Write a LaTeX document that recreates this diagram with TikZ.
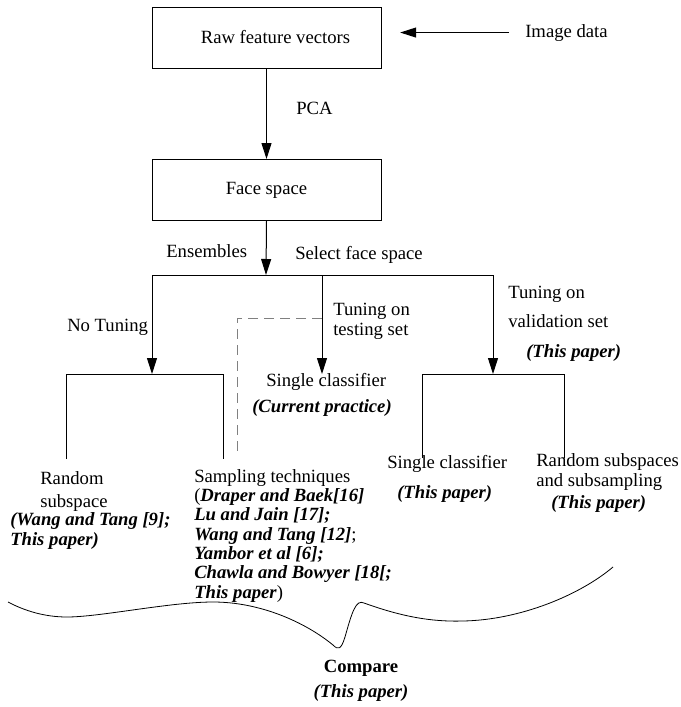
\documentclass[tikz,border=0pt]{standalone}
\usepackage{fontspec}
\setmainfont{Liberation Serif}
\usetikzlibrary{arrows.meta}
\newcommand{\bi}[1]{\textbf{\textit{#1}}}
\begin{document}
\begin{tikzpicture}[x=0.75pt,y=-0.75pt,
  every node/.style={font=\fontsize{14pt}{14.5pt}\selectfont, inner sep=0pt},
  box/.style={draw, line width=0.75pt, minimum width=171.75pt, minimum height=45.75pt},
  txt/.style={anchor=base west, align=left},
  ln/.style={line width=0.75pt},
  arr/.style={line width=0.75pt, -{Triangle[length=12pt,width=7.5pt]}},
  dashline/.style={line width=0.75pt, gray, dash pattern=on 7.5pt off 4.5pt}
]
\useasboundingbox (0,0) rectangle (681,707);

% boxes
\node[box] (raw) at (266.5,37.5) {\hspace*{13.5pt}Raw feature vectors};
\node[box] (face) at (266.5,190) {Face space};
\node[txt] (img) at (525,37) {Image data};
\draw[arr] (img.west) ++(-16,0) coordinate (imgs) -- ([xshift=14]raw.east |- imgs);
\draw[arr] (raw.south) -- (face.north);
\node[txt] (pca) at (296,114) {PCA};

% split
\coordinate (j) at (266,275);
\coordinate (jl) at (152,275);
\coordinate (jm) at (322,275);
\coordinate (jr) at (493,275);
\draw[arr] (face.south) -- (j);
\draw[ln] (jl) -- (jr);
\node[txt] (ens) at (166,257) {Ensembles};
\node[txt] (sel) at (295,259) {Select face space};

% left branch
\coordinate (lt) at (152,374);
\coordinate (lbl) at (66,374);
\coordinate (lbr) at (223,374);
\coordinate (lbl2) at (66,459);
\coordinate (lbr2) at (223,459);
\draw[arr] (jl) -- (lt);
\draw[ln] (lbl2) -- (lbl) -- (lbr) -- (lbr2);
\node[txt] (nt) at (67,331) {No Tuning};

% middle branch
\coordinate (mt) at (322,374);
\draw[arr] (jm) -- (mt);
\node[txt] (tt) at (333,335) {Tuning on\\testing set};
\node[txt] (sc1) at (266,412) {Single classifier\\[5pt]\hspace*{-10.5pt}\bi{(Current practice)}};
\coordinate (d1) at (322,318);
\coordinate (d2) at (237,318);
\coordinate (d3) at (237,456);
\draw[dashline] (d1) -- (d2) -- (d3);

% right branch
\coordinate (rt) at (493,374);
\coordinate (rbl) at (422,374);
\coordinate (rbr) at (564,374);
\coordinate (rbl2) at (422,458);
\coordinate (rbr2) at (564,458);
\draw[arr] (jr) -- (rt);
\draw[ln] (rbl2) -- (rbl) -- (rbr) -- (rbr2);
\node[txt] (tv) at (508,357) {Tuning on\\[7.5pt]validation set\\[7.5pt]\hspace*{13.5pt}\bi{(This paper)}};

% leaves
\node[txt] (rs) at (10,545) {\hspace*{22.5pt}Random\\[3pt]\hspace*{22.5pt}subspace\\[-1pt]\bi{(Wang and Tang [9];}\\\bi{This paper)}};
\node[txt] (st) at (194,598) {Sampling techniques\\
(\bi{Draper and Baek[16]}\\
\bi{Lu and Jain [17];}\\
\bi{Wang and Tang [12]};\\
\bi{Yambor et al [6];}\\
\bi{Chawla and Bowyer [18[;}\\
\bi{This paper})};
\node[txt] (sc2) at (387,498) {Single classifier\\[8pt]\hspace*{7.5pt}\bi{(This paper)}};
\node[txt] (rss) at (536,508) {Random subspaces\\and subsampling\\[2pt]\hspace*{11.25pt}\bi{(This paper)}};

% brace-like curve
\coordinate (c0) at (8,602);
\coordinate (c1) at (67,617);
\coordinate (c2) at (213,602);
\coordinate (c3) at (333,645);
\coordinate (c4) at (364,603);
\coordinate (c5) at (463,621);
\coordinate (c6) at (613,567);
\draw[line width=0.6pt] (c0) .. controls (25,611) and (45,617) .. (c1)
  .. controls (100,617) and (170,602) .. (c2)
  .. controls (260,602) and (305,622) .. (c3)
  .. controls (338,650) and (341,650) .. (345,637)
  .. controls (352,612) and (356,599) .. (c4)
  .. controls (400,616) and (430,622) .. (c5)
  .. controls (520,620) and (580,595) .. (c6);

\node[anchor=base, align=center] (cmp) at (361,697) {\textbf{Compare}\\[4.25pt]\bi{(This paper)}};
\end{tikzpicture}
\end{document}
